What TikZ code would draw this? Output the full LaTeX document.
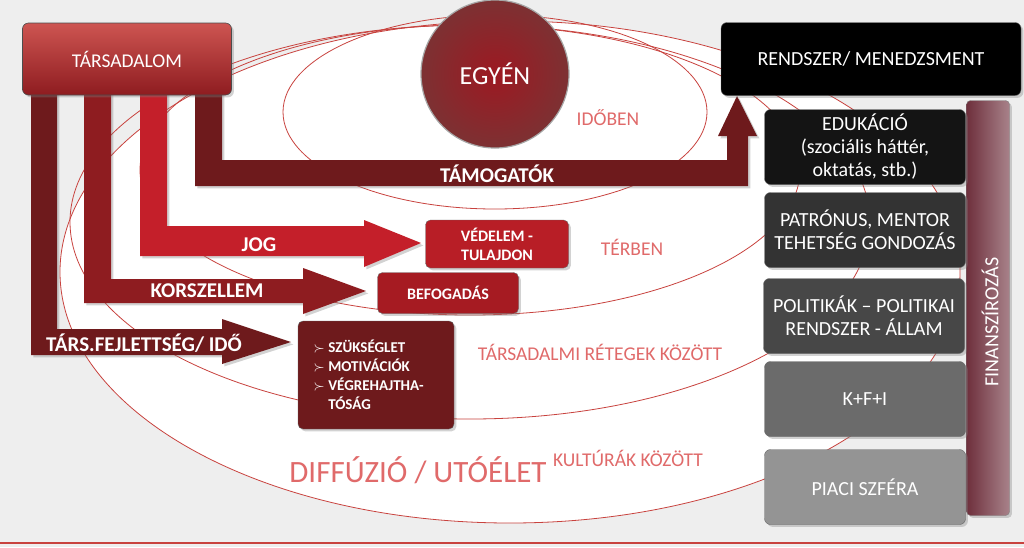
\documentclass[tikz,border=0pt]{standalone}
\usepackage{fontspec}
\setmainfont{Carlito}
\usetikzlibrary{shadows}
\definecolor{bg}{HTML}{EEEEEE}
\definecolor{ered}{HTML}{C8423E}
\definecolor{pinkt}{HTML}{E06A6A}
\definecolor{darkr}{HTML}{6E1A1C}
\definecolor{midr}{HTML}{8E1C20}
\definecolor{brightr}{HTML}{C41F2A}
\definecolor{boxr}{HTML}{B81E26}
\definecolor{finc}{HTML}{6E2F3C}
\tikzset{
  box/.style={rounded corners=6pt, draw=black!70, line width=0.6pt, minimum width=#1, align=center, text=white, drop shadow={opacity=0.35}},
  rbox/.style={box=#1, top color=ered!90!white, bottom color=midr},
  sbox/.style={rounded corners=5pt, draw=black!60, text=white, font=\bfseries\fontsize{16}{19}\selectfont, align=center, drop shadow={opacity=0.35}},
  gbox/.style={rounded corners=6pt, draw=black!60, minimum width=201pt, minimum height=75pt, text=white, align=center, font=\fontsize{20}{23}\selectfont, drop shadow={opacity=0.35}},
  ell/.style={draw=ered, line width=0.8pt},
  lbl/.style={text=pinkt, font=\fontsize{19.5}{22}\selectfont},
  alab/.style={text=white, font=\bfseries\fontsize{21}{23}\selectfont},
}
\begin{document}
\begin{tikzpicture}[x=1pt,y=-1pt]
\useasboundingbox (0,0) rectangle (1024,547);
\fill[bg] (0,0) rectangle (1024,547);
\draw[ered, line width=1.5pt] (0,543) -- (1024,543);
% ellipses
\fill[white] (510,272) ellipse [x radius=450, y radius=251];
\draw[ell] (510,272) ellipse [x radius=450, y radius=251];
\draw[ell] (470,222) ellipse [x radius=400, y radius=197];
\draw[ell] (470,170) ellipse [x radius=330, y radius=145];
\draw[ell] (495,112) ellipse [x radius=212, y radius=97];
% pink labels
\node[lbl] (idoben) at (608,118) {IDŐBEN};
\node[lbl] (terben) at (632,247) {TÉRBEN};
\node[lbl] (retegek) at (600,352) {TÁRSADALMI RÉTEGEK KÖZÖTT};
\node[lbl] (kultura) at (628,458) {KULTÚRÁK KÖZÖTT};
\node[text=pinkt, font=\fontsize{31}{33}\selectfont] (diff) at (418,470) {DIFFÚZIÓ / UTÓÉLET};
% EGYEN
\node[circle, minimum size=148pt, draw=gray!70, line width=1.2pt, inner color=brightr!80!black, outer color=darkr!90, text=white, font=\fontsize{26}{28}\selectfont] (egyen) at (495,74) {EGYÉN};
% arrows
\fill[darkr, drop shadow={opacity=0.35}] (31,90) -- (57,90) -- (57,329) -- (222,329) -- (222,319) -- (291,342) -- (222,364) -- (222,355) -- (31,355) -- cycle;
\fill[midr, drop shadow={opacity=0.35}] (84,90) -- (111,90) -- (111,279) -- (303,279) -- (303,268) -- (366,291) -- (303,314) -- (303,303) -- (84,303) -- cycle;
\fill[brightr, drop shadow={opacity=0.35}] (140,90) -- (167,90) -- (167,226) -- (364,226) -- (364,220) -- (421,243) -- (364,267) -- (364,256) -- (140,256) -- cycle;
\fill[darkr, drop shadow={opacity=0.35}] (195,90) -- (222,90) -- (222,160) -- (727,160) -- (727,136) -- (718,136) -- (737,96) -- (757,136) -- (748,136) -- (748,186) -- (195,186) -- cycle;
\node[alab] (tam) at (497,174) {TÁMOGATÓK};
\node[alab] (jog) at (259,245) {JOG};
\node[alab] (korsz) at (207,291) {KORSZELLEM};
\node[alab] (tfi) at (144,343) {TÁRS.FEJLETTSÉG/ IDŐ};
% Tarsadalom
\node[rbox=209pt, minimum height=72pt, font=\fontsize{19.5}{22}\selectfont] (tars) at (127,59) {TÁRSADALOM};
% small boxes
\node[sbox, minimum width=143pt, minimum height=48pt, fill=boxr] (ved) at (497,244) {VÉDELEM -\\TULAJDON};
\node[sbox, minimum width=141pt, minimum height=41pt, fill=boxr!90!black] (bef) at (448,293) {BEFOGADÁS};
\node[sbox, minimum width=156pt, minimum height=108pt, fill=darkr, font=\bfseries\fontsize{15}{19}\selectfont, align=left] (szuk) at (376,375) {\llap{$\succ$\ }SZÜKSÉGLET\\\llap{$\succ$\ }MOTIVÁCIÓK\\\llap{$\succ$\ }VÉGREHAJTHA-\\TÓSÁG};
% right column
\node[gbox, minimum width=300pt, minimum height=73pt, fill=black] (rend) at (871,59) {RENDSZER/ MENEDZSMENT};
\node[rounded corners=4pt, draw=black!50, minimum width=43pt, minimum height=415pt, left color=finc, right color=finc!60!white, drop shadow={opacity=0.35}] (fin) at (988,308) {};
\node[text=white, rotate=90, font=\fontsize{20}{22}\selectfont] (fint) at (990,322) {FINANSZÍROZÁS};
\node[gbox, fill=black!92] (edu) at (865,147) {EDUKÁCIÓ\\(szociális háttér,\\oktatás, stb.)};
\node[gbox, fill=black!80] (pat) at (865,230) {PATRÓNUS, MENTOR\\TEHETSÉG GONDOZÁS};
\node[gbox, fill=black!72] (pol) at (864,316) {POLITIKÁK – POLITIKAI\\RENDSZER - ÁLLAM};
\node[gbox, fill=black!58] (kfi) at (865,399) {K+F+I};
\node[gbox, fill=black!42] (piac) at (865,487) {PIACI SZFÉRA};
\end{tikzpicture}
\end{document}
